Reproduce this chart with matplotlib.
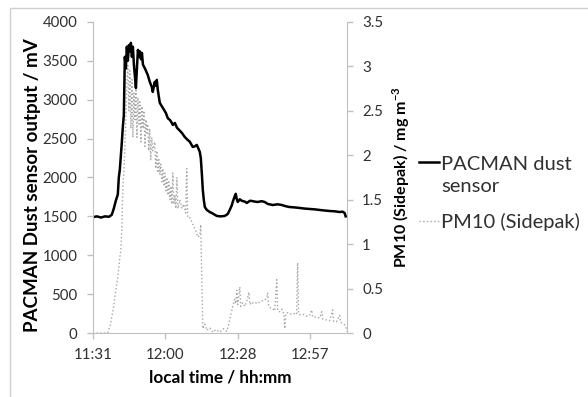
import matplotlib.pyplot as plt
from matplotlib.patches import Rectangle
from matplotlib.legend_handler import HandlerLine2D

plt.rcParams['font.family'] = ['Lato', 'DejaVu Sans']
plt.rcParams['mathtext.fontset'] = 'custom'
plt.rcParams['mathtext.rm'] = 'Lato'
plt.rcParams['mathtext.bf'] = 'Lato:bold'

# time in minutes after 11:31
t_dust = [0.0, 1.6, 3.2, 4.8, 6.4, 7.5, 8.3, 9.1, 9.9, 10.3, 10.7, 11.5, 11.9, 12.3,
          12.7, 13.1, 13.5, 13.9, 14.3, 14.7, 15.1, 15.5, 15.9, 16.3, 16.7, 17.1,
          17.5, 17.9, 18.3, 18.7, 19.1, 19.5, 19.9, 20.7, 21.8, 22.6, 23.4, 23.8,
          24.6, 25.0, 25.4, 25.8, 26.6, 27.8, 29.0, 29.8, 30.6, 31.4, 31.8, 32.6,
          33.4, 34.6, 35.4, 36.5, 37.7, 38.5, 39.7, 40.5, 41.3, 42.1, 42.5, 42.9,
          43.3, 43.7, 44.1, 44.5, 45.3, 46.5, 47.3, 48.5, 49.3, 50.8, 52.4, 53.6,
          54.4, 55.2, 55.6, 56.4, 56.8, 57.2, 57.6, 58.4, 59.2, 60.4, 61.2, 62.4,
          63.2, 64.3, 65.5, 67.1, 68.3, 69.5, 71.5, 73.5, 75.1, 76.7, 78.2, 80.2,
          82.2, 84.2, 86.2, 88.2, 90.2, 92.2, 94.1, 96.1, 98.1, 99.3, 100.1, 100.5]
dust_mv = [1490, 1500, 1485, 1500, 1495, 1520, 1600, 1700, 1780, 2000, 2100, 2450,
           2650, 2800, 3550, 3400, 3680, 3500, 3700, 3620, 3730, 3550, 3680, 3450,
           3300, 3150, 3400, 3640, 3550, 3620, 3520, 3600, 3450, 3400, 3318, 3230,
           3164, 3100, 3228, 3180, 3254, 3125, 2958, 2894, 2830, 2760, 2740, 2700,
           2675, 2700, 2640, 2600, 2572, 2521, 2482, 2460, 2392, 2400, 2418, 2360,
           2328, 2250, 2058, 1840, 1710, 1620, 1582, 1555, 1543, 1520, 1505, 1500,
           1505, 1530, 1582, 1640, 1685, 1760, 1790, 1720, 1685, 1720, 1700, 1690,
           1672, 1700, 1698, 1690, 1685, 1695, 1685, 1660, 1646, 1655, 1646, 1630,
           1620, 1615, 1608, 1600, 1595, 1590, 1582, 1575, 1569, 1565, 1556, 1560,
           1543, 1500]

t_pm = [0.0, 5.6, 6.0, 6.8, 7.5, 8.3, 8.7, 9.5, 9.9, 10.7, 11.1, 11.5, 11.9, 12.3,
        12.7, 13.1, 13.5, 13.9, 14.3, 14.7, 15.1, 15.5, 15.9, 16.3, 16.7, 17.1, 17.5,
        17.9, 18.3, 18.7, 19.1, 19.5, 19.9, 20.3, 20.7, 21.1, 21.4, 21.8, 22.2, 22.6,
        23.0, 23.4, 23.8, 24.6, 25.0, 25.4, 25.8, 26.2, 26.6, 27.0, 27.4, 27.8, 28.2,
        28.6, 29.0, 29.4, 29.8, 30.2, 30.6, 31.0, 31.4, 31.8, 32.2, 32.6, 33.0, 33.4,
        33.8, 34.6, 35.4, 36.1, 36.9, 37.3, 37.7, 38.5, 39.3, 40.1, 40.9, 41.7, 42.5,
        42.9, 43.3, 43.7, 44.5, 45.3, 46.5, 47.7, 48.9, 50.4, 52.0, 53.2, 54.0, 54.8,
        55.6, 56.4, 56.8, 57.2, 57.6, 58.4, 58.8, 59.6, 60.4, 61.2, 62.0, 62.4, 63.2,
        63.9, 64.7, 65.5, 66.3, 67.1, 68.3, 69.1, 69.5, 69.9, 70.7, 71.5, 72.3, 73.1,
        73.5, 74.3, 75.1, 75.9, 76.3, 76.7, 77.5, 78.2, 79.0, 80.2, 81.0, 81.4, 81.8,
        82.6, 83.8, 85.0, 86.2, 87.0, 87.4, 88.6, 90.2, 91.0, 91.4, 92.5, 94.1, 95.3,
        95.7, 96.9, 98.1, 98.5, 99.7, 100.5, 100.9]
pm10 = [0.0, 0.0, 0.01, 0.08, 0.18, 0.30, 0.40, 0.55, 0.63, 0.85, 0.93, 1.16, 1.64,
        1.80, 2.08, 2.40, 2.82, 3.01, 2.50, 2.95, 2.30, 2.85, 2.20, 2.70, 2.40, 2.75,
        2.20, 2.65, 2.35, 2.60, 2.15, 2.55, 2.30, 2.50, 2.10, 2.40, 2.25, 2.35, 2.05,
        2.30, 1.95, 2.20, 2.05, 2.15, 1.85, 2.05, 1.80, 1.95, 1.78, 1.90, 1.70, 1.85,
        1.65, 1.80, 1.60, 1.75, 1.55, 1.70, 1.50, 1.65, 1.45, 1.80, 1.45, 1.55, 1.40,
        1.75, 1.40, 1.50, 1.40, 1.45, 1.35, 1.85, 1.30, 1.30, 1.25, 1.20, 1.15, 1.08,
        1.10, 1.22, 0.60, 0.05, 0.10, 0.03, 0.06, 0.01, 0.04, 0.01, 0.05, 0.02, 0.10,
        0.20, 0.30, 0.38, 0.33, 0.48, 0.32, 0.52, 0.30, 0.34, 0.30, 0.36, 0.46, 0.32,
        0.35, 0.33, 0.34, 0.33, 0.35, 0.36, 0.37, 0.40, 0.45, 0.30, 0.28, 0.27, 0.25,
        0.60, 0.25, 0.24, 0.27, 0.22, 0.05, 0.22, 0.23, 0.22, 0.21, 0.22, 0.21, 0.79,
        0.22, 0.20, 0.21, 0.19, 0.20, 0.26, 0.18, 0.18, 0.17, 0.24, 0.16, 0.15, 0.14,
        0.26, 0.13, 0.13, 0.20, 0.12, 0.10, 0.08, 0.02]

xticks = [0, 28.8, 57.6, 86.4]
xticklabels = ['11:31', '12:00', '12:28', '12:57']

axcol = '#c0c0c0'
txtcol = '#303030'


# legend line drawn level with the first line of a wrapped label
class TopLineHandler(HandlerLine2D):
    def __init__(self, shift, **kw):
        super().__init__(**kw)
        self.shift = shift

    def create_artists(self, legend, orig_handle, xdescent, ydescent, width, height,
                       fontsize, trans):
        arts = super().create_artists(legend, orig_handle, xdescent, ydescent, width,
                                      height, fontsize, trans)
        for a in arts:
            a.set_ydata([y + self.shift for y in a.get_ydata()])
        return arts


fig = plt.figure(figsize=(5.88, 3.97), dpi=100)
ax = fig.add_axes([0.158, 0.161, 0.432, 0.784])
ax2 = ax.twinx()

l1, = ax.plot(t_dust, dust_mv, color='black', lw=1.8)
l2, = ax2.plot(t_pm, pm10, color='#a6a6a6', lw=1.0, ls=':')
ax.set_zorder(ax2.get_zorder() + 1)
ax.patch.set_visible(False)

ax.set_xlim(0, 101)
ax.set_ylim(0, 4000)
ax2.set_ylim(0, 3.5)
ax.set_yticks(range(0, 4001, 500))
ax2.set_yticks([0, 0.5, 1, 1.5, 2, 2.5, 3, 3.5])
ax2.set_yticklabels(['0', '0.5', '1', '1.5', '2', '2.5', '3', '3.5'])
ax.set_xticks(xticks)
ax.set_xticklabels(xticklabels)

for a in (ax, ax2):
    a.spines['top'].set_visible(False)
    for s in ('left', 'right', 'bottom'):
        a.spines[s].set_color(axcol)
    a.tick_params(colors=axcol, labelcolor=txtcol, labelsize=10.8, length=4, width=1, pad=7)
ax.spines['right'].set_visible(False)
ax2.spines['left'].set_visible(False)
ax2.spines['bottom'].set_visible(False)

ax.set_xlabel('local time / hh:mm', fontsize=12.3, fontweight='bold', labelpad=5)
ax.set_ylabel('PACMAN Dust sensor output / mV', fontsize=13.5, fontweight='bold',
              labelpad=1, y=0.476)
ax2.set_ylabel('PM10 (Sidepak) / mg m$^{\\mathbf{-3}}$', fontsize=11.5, fontweight='bold',
               labelpad=5)

leg = fig.legend([l1, l2], ['PACMAN dust\nsensor', 'PM10 (Sidepak)'],
                 loc='upper left', bbox_to_anchor=(0.681, 0.652), frameon=False,
                 fontsize=14.5, handlelength=1.0, handletextpad=0.12, labelspacing=0.9,
                 labelcolor=txtcol, handler_map={l1: TopLineHandler(9.8)})
for t in leg.get_texts():
    t.set_linespacing(1.35)

fig.add_artist(Rectangle((0.017, -0.1), 1.1, 1.08, transform=fig.transFigure,
                         fill=False, edgecolor='#cfcfcf', lw=1))

fig.savefig('out.png', dpi=100)
